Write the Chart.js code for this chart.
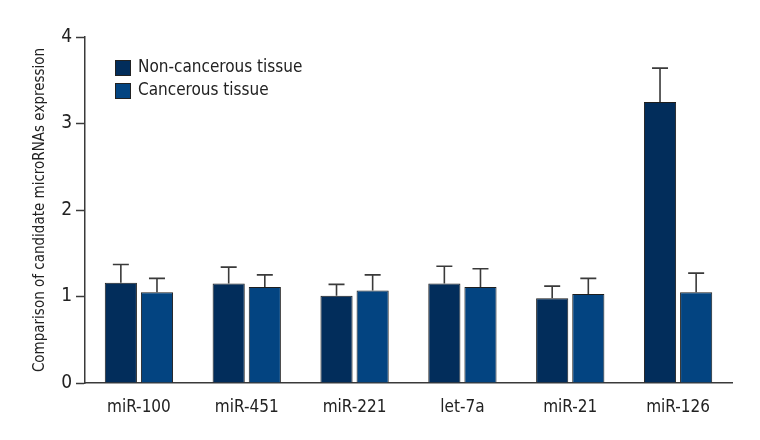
<!DOCTYPE html>
<html>
<head>
<meta charset="utf-8">
<script src="https://cdn.jsdelivr.net/npm/chart.js@4.4.1/dist/chart.umd.min.js"></script>
<style>
  body { margin: 0; background: #fff; }
  #wrap { width: 760px; height: 440px; }
</style>
</head>
<body>
<div id="wrap"><canvas id="mycanvas" width="760" height="440"></canvas></div>
<script>
var categories = ['miR-100', 'miR-451', 'miR-221', 'let-7a', 'miR-21', 'miR-126'];
var nonCancerous = [1.16, 1.15, 1.01, 1.15, 0.98, 3.25];
var nonCancerousErr = [0.21, 0.19, 0.13, 0.20, 0.14, 0.39];
var cancerous = [1.05, 1.11, 1.07, 1.11, 1.03, 1.05];
var cancerousErr = [0.16, 0.14, 0.18, 0.21, 0.18, 0.22];
var yTicks = [0, 1, 2, 3, 4];

var fontFamily = '"Liberation Sans Narrow", "DejaVu Sans Condensed", "Noto Sans", sans-serif';

// error bars (upper only) drawn through the y scale
var errorBars = {
	id: 'errorBars',
	afterDatasetsDraw: function(chart)
	{
		var ctx = chart.ctx;
		var y = chart.scales.y;
		chart.data.datasets.forEach(function(ds, di)
		{
			var meta = chart.getDatasetMeta(di);
			meta.data.forEach(function(bar, i)
			{
				var top = y.getPixelForValue(ds.data[i] + ds.errors[i]);
				ctx.save();
				ctx.strokeStyle = '#3a3a3a';
				ctx.lineWidth = 1.6;
				ctx.beginPath();
				ctx.moveTo(bar.x, bar.y);
				ctx.lineTo(bar.x, top);
				ctx.moveTo(bar.x - 8, top);
				ctx.lineTo(bar.x + 8, top);
				ctx.stroke();
				ctx.restore();
			});
		});
	}
};

// legend inside the plot, top left
var innerLegend = {
	id: 'innerLegend',
	afterDraw: function(chart)
	{
		var ctx = chart.ctx;
		var x0 = chart.chartArea.left + 30;
		var y0 = 60;
		ctx.save();
		chart.data.datasets.forEach(function(ds, i)
		{
			var yy = y0 + i * 23;
			ctx.fillStyle = ds.backgroundColor;
			ctx.fillRect(x0, yy, 16, 16);
			ctx.strokeStyle = '#222';
			ctx.lineWidth = 1;
			ctx.strokeRect(x0 + 0.5, yy + 0.5, 15, 15);
			ctx.fillStyle = '#222';
			ctx.font = '17px ' + fontFamily;
			ctx.textBaseline = 'middle';
			ctx.fillText(ds.label, x0 + 23, yy + 8);
		});
		ctx.restore();
	}
};

var chartdata =
{
	labels: categories,
	datasets:
	[{
		label: 'Non-cancerous tissue',
		backgroundColor: '#022d5b',
		borderColor: '#1e1e1e',
		borderWidth: 1,
		data: nonCancerous,
		errors: nonCancerousErr
	},
	{
		label: 'Cancerous tissue',
		backgroundColor: '#034481',
		borderColor: '#1e1e1e',
		borderWidth: 1,
		data: cancerous,
		errors: cancerousErr
	}]
};

var ctx = document.getElementById('mycanvas');
var barGraph = new Chart(ctx, {
	type: 'bar',
	data: chartdata,
	plugins: [errorBars, innerLegend],
	options: {
		responsive: false,
		animation: false,
		categoryPercentage: 0.67,
		barPercentage: 0.89,
		layout: { padding: { top: 37, right: 28, left: 0, bottom: 0 } },
		plugins: {
			legend: { display: false },
			tooltip: { enabled: false }
		},
		scales: {
			x: {
				grid: { display: false },
				border: { display: true, color: '#3a3a3a', width: 1.5 },
				ticks: { color: '#222', font: { family: fontFamily, size: 17 }, padding: 6 },
				afterFit: function(scale) { scale.height = 57; }
			},
			y: {
				min: 0,
				max: 4,
				afterBuildTicks: function(scale) {
					scale.ticks = yTicks.map(function(v) { return { value: v }; });
				},
				grid: { drawOnChartArea: false, drawTicks: true, tickLength: 9, color: '#3a3a3a', tickWidth: 1.5 },
				border: { display: true, color: '#3a3a3a', width: 1.5 },
				ticks: { color: '#222', font: { family: fontFamily, size: 19 }, padding: 4 },
				title: {
					display: true,
					text: 'Comparison of candidate microRNAs expression',
					color: '#222',
					font: { family: fontFamily, size: 15 },
					padding: { top: 31, bottom: 8 }
				},
				afterFit: function(scale) { scale.width = 85; }
			}
		}
	}
});
barGraph.render();
</script>
</body>
</html>
